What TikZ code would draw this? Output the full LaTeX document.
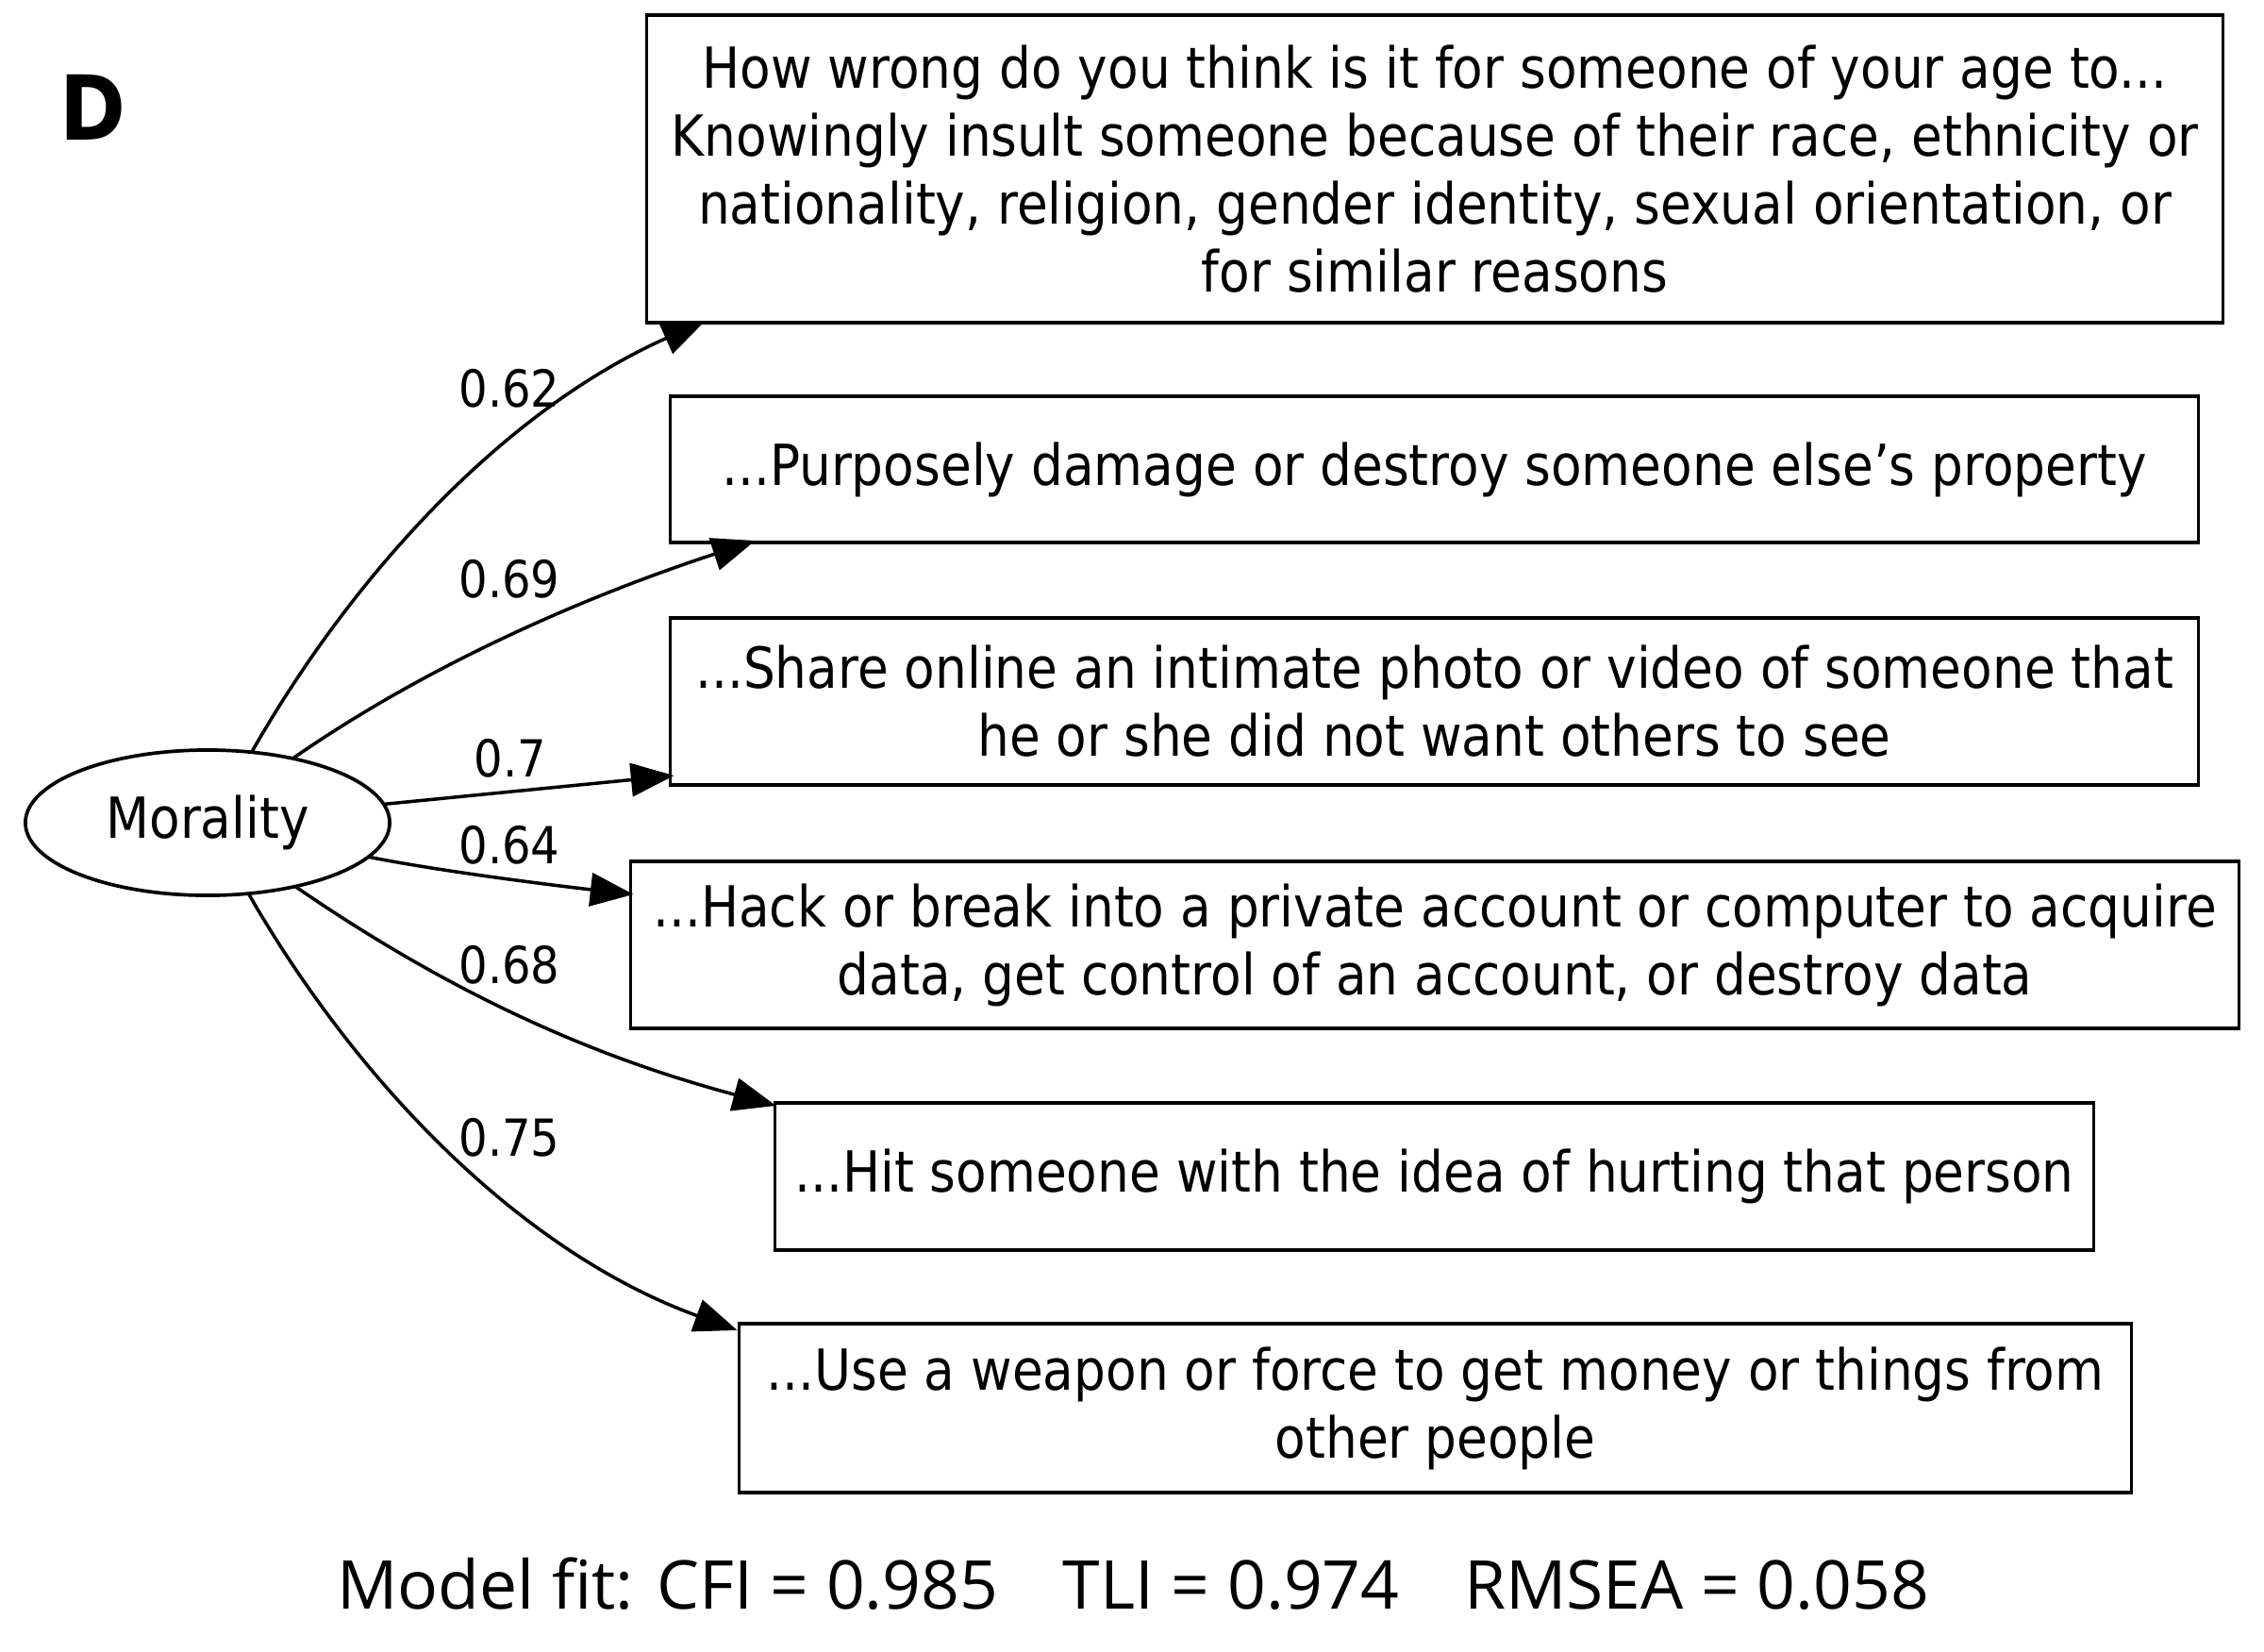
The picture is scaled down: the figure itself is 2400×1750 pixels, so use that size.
\documentclass[tikz,border=0pt]{standalone}
\usepackage{fontspec}
\setmainfont{DejaVu Sans}[FakeStretch=0.888]
\newfontfamily\footfont{Open Sans}
\usetikzlibrary{arrows.meta,calc,shapes.geometric}
\newcommand\boxfont{\fontsize{17.07pt}{20.49pt}\selectfont}
\newcommand\coeffont{\fontsize{15.4pt}{18pt}\selectfont}
\tikzset{
  itembox/.style={draw, line width=1.05pt, rectangle, inner sep=0pt, outer sep=0pt, align=center, font=\boxfont},
  latent/.style={draw, ellipse, line width=1.05pt, inner sep=0pt, outer sep=0pt, minimum width=3.86cm, minimum height=1.54cm, font=\boxfont},
  loading/.style={line width=1pt, -{Triangle[length=13pt,width=10pt]}},
  coef/.style={inner sep=0pt, font=\coeffont},
}
\begin{document}
\begin{tikzpicture}[x=0.01cm, y=-0.01cm]
\fill[white] (0,0) rectangle (2400,1750);
\path[use as bounding box] (0,0) rectangle (2400,1750);

\node[anchor=base, inner sep=0pt, font=\fontsize{27pt}{30pt}\selectfont\bfseries] (lab) at (98.5,148) {D};

\node[latent] (m) at (220,872) {Morality};

\node[itembox, minimum width=16.70cm, minimum height=3.26cm] (b1) at (1521,179)
  {How wrong do you think is it for someone of your age to...\\Knowingly insult someone because of their race, ethnicity or\\nationality, religion, gender identity, sexual orientation, or\\for similar reasons};
\node[itembox, minimum width=16.19cm, minimum height=1.55cm] (b2) at (1520.5,497.5)
  {...Purposely damage or destroy someone else’s property};
\node[itembox, minimum width=16.19cm, minimum height=1.77cm] (b3) at (1520.5,743.5)
  {...Share online an intimate photo or video of someone that\\he or she did not want others to see};
\node[itembox, minimum width=17.04cm, minimum height=1.77cm] (b4) at (1521,1001.5)
  {...Hack or break into a private account or computer to acquire\\data, get control of an account, or destroy data};
\node[itembox, minimum width=13.97cm, minimum height=1.56cm] (b5) at (1520.5,1247)
  {...Hit someone with the idea of hurting that person};
\node[itembox, minimum width=14.75cm, minimum height=1.79cm] (b6) at (1521.5,1492.5)
  {...Use a weapon or force to get money or things from\\other people};

\draw[loading] (m.58) .. controls (380,599) and (541,432) .. ($(b1.south west)+(62,-2)$);
\draw[loading] (m.37) .. controls (460,700) and (630,629) .. ($(b2.south west)+(90,-2)$);
\draw[loading] (m.6) -- ($(b3.south west)+(4,-10)$);
\draw[loading] (m.-12) .. controls (470,924) and (592,939) .. ($(b4.north west)+(3,35)$);
\draw[loading] (m.-36) .. controls (504,1071) and (659,1128) .. ($(b5.north west)+(1,3)$);
\draw[loading] (m.-60) .. controls (383,1155) and (558,1329) .. ($(b6.north west)+(-2,7)$);

\node[coef] (c1) at (540,412) {0.62};
\node[coef] (c2) at (540,614) {0.69};
\node[coef] (c3) at (541,804) {0.7};
\node[coef] (c4) at (540,896) {0.64};
\node[coef] (c5) at (540,1023) {0.68};
\node[coef] (c6) at (540,1206) {0.75};

\node[anchor=base, inner sep=0pt, font=\footfont\fontsize{20.3pt}{24pt}\selectfont] (fit) at (1201,1705)
  {Model fit: CFI = 0.985\hspace{0.96em}TLI = 0.974\hspace{0.96em}RMSEA = 0.058};
\end{tikzpicture}
\end{document}
